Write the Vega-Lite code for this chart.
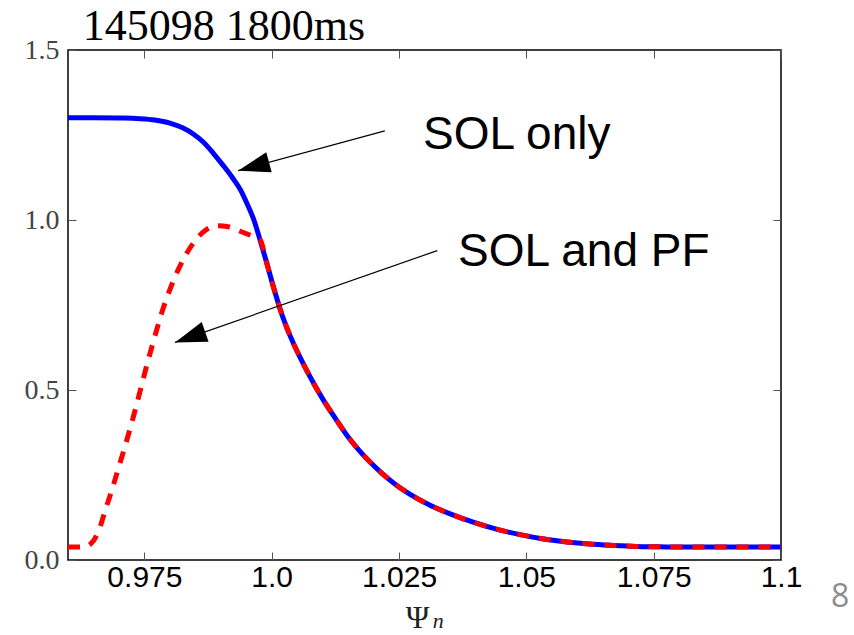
{
  "$schema": "https://vega.github.io/schema/vega-lite/v6.json",
  "autosize": {"type": "none"},
  "padding": {"left": 68, "top": 50, "right": 73, "bottom": 75},
  "width": 713,
  "height": 510,
  "background": "white",
  "config": {
    "view": {"stroke": "black", "strokeWidth": 1.5},
    "axis": {"grid": false, "domain": false}
  },
  "datasets": {
    "blue": [
      {"psi": 0.9600, "v": 1.301}, {"psi": 0.9650, "v": 1.301}, {"psi": 0.9700, "v": 1.300},
      {"psi": 0.9740, "v": 1.298}, {"psi": 0.9770, "v": 1.294}, {"psi": 0.9800, "v": 1.285},
      {"psi": 0.9825, "v": 1.271}, {"psi": 0.9846, "v": 1.253}, {"psi": 0.9865, "v": 1.230},
      {"psi": 0.9885, "v": 1.197}, {"psi": 0.9905, "v": 1.160}, {"psi": 0.9924, "v": 1.122},
      {"psi": 0.9940, "v": 1.085}, {"psi": 0.9951, "v": 1.050}, {"psi": 0.9965, "v": 1.000},
      {"psi": 0.9977, "v": 0.942}, {"psi": 0.9990, "v": 0.875}, {"psi": 1.0003, "v": 0.805},
      {"psi": 1.0020, "v": 0.722}, {"psi": 1.0036, "v": 0.660}, {"psi": 1.0055, "v": 0.598},
      {"psi": 1.0072, "v": 0.548}, {"psi": 1.0100, "v": 0.474}, {"psi": 1.0127, "v": 0.412},
      {"psi": 1.0150, "v": 0.362}, {"psi": 1.0172, "v": 0.322}, {"psi": 1.0195, "v": 0.285},
      {"psi": 1.0217, "v": 0.254}, {"psi": 1.0245, "v": 0.220}, {"psi": 1.0271, "v": 0.194},
      {"psi": 1.0310, "v": 0.162}, {"psi": 1.0353, "v": 0.134}, {"psi": 1.0400, "v": 0.109},
      {"psi": 1.0443, "v": 0.090}, {"psi": 1.0490, "v": 0.074}, {"psi": 1.0534, "v": 0.062},
      {"psi": 1.0580, "v": 0.053}, {"psi": 1.0624, "v": 0.047}, {"psi": 1.0670, "v": 0.043},
      {"psi": 1.0715, "v": 0.040}, {"psi": 1.0760, "v": 0.039}, {"psi": 1.0805, "v": 0.038},
      {"psi": 1.0900, "v": 0.038}, {"psi": 1.1000, "v": 0.038}
    ],
    "red": [
      {"psi": 0.9600, "v": 0.038}, {"psi": 0.9630, "v": 0.038}, {"psi": 0.9645, "v": 0.048},
      {"psi": 0.9660, "v": 0.085}, {"psi": 0.9674, "v": 0.150}, {"psi": 0.9688, "v": 0.215},
      {"psi": 0.9701, "v": 0.280}, {"psi": 0.9715, "v": 0.350}, {"psi": 0.9729, "v": 0.425},
      {"psi": 0.9743, "v": 0.505}, {"psi": 0.9756, "v": 0.580}, {"psi": 0.9770, "v": 0.655},
      {"psi": 0.9783, "v": 0.722}, {"psi": 0.9800, "v": 0.795}, {"psi": 0.9820, "v": 0.865},
      {"psi": 0.9846, "v": 0.932}, {"psi": 0.9870, "v": 0.970}, {"psi": 0.9893, "v": 0.983},
      {"psi": 0.9915, "v": 0.980}, {"psi": 0.9938, "v": 0.967}, {"psi": 0.9958, "v": 0.955},
      {"psi": 0.9977, "v": 0.942}, {"psi": 0.9990, "v": 0.875}, {"psi": 1.0003, "v": 0.805},
      {"psi": 1.0020, "v": 0.722}, {"psi": 1.0036, "v": 0.660}, {"psi": 1.0055, "v": 0.598},
      {"psi": 1.0072, "v": 0.548}, {"psi": 1.0100, "v": 0.474}, {"psi": 1.0127, "v": 0.412},
      {"psi": 1.0150, "v": 0.362}, {"psi": 1.0172, "v": 0.322}, {"psi": 1.0195, "v": 0.285},
      {"psi": 1.0217, "v": 0.254}, {"psi": 1.0245, "v": 0.220}, {"psi": 1.0271, "v": 0.194},
      {"psi": 1.0310, "v": 0.162}, {"psi": 1.0353, "v": 0.134}, {"psi": 1.0400, "v": 0.109},
      {"psi": 1.0443, "v": 0.090}, {"psi": 1.0490, "v": 0.074}, {"psi": 1.0534, "v": 0.062},
      {"psi": 1.0580, "v": 0.053}, {"psi": 1.0624, "v": 0.047}, {"psi": 1.0670, "v": 0.043},
      {"psi": 1.0715, "v": 0.040}, {"psi": 1.0760, "v": 0.039}, {"psi": 1.0805, "v": 0.038},
      {"psi": 1.0900, "v": 0.038}, {"psi": 1.1000, "v": 0.038}
    ],
    "arrows": [
      {"x": 1.0222, "y": 1.262, "x2": 0.9934, "y2": 1.145, "angle": 254.8},
      {"x": 1.0325, "y": 0.910, "x2": 0.9810, "y2": 0.640, "angle": 250.7}
    ],
    "labels": [
      {"x": 1.0297, "y": 1.209, "text": "SOL only"},
      {"x": 1.0366, "y": 0.866, "text": "SOL and PF"}
    ],
    "title": [{"x": 0.9629, "y": 1.529, "text": "145098 1800ms"}],
    "sub": [{"x": 1.0327, "y": -0.2, "text": "n"}],
    "page": [{"x": 1.1116, "y": -0.138, "text": "8"}]
  },
  "resolve": {"axis": {"x": "independent", "y": "independent"}},
  "layer": [
    {
      "data": {"name": "blue"},
      "mark": {"type": "point", "opacity": 0},
      "encoding": {
        "x": {"field": "psi", "type": "quantitative",
          "scale": {"domain": [0.96, 1.1], "nice": false, "zero": false},
          "axis": {"orient": "top", "values": [0.975, 1, 1.025, 1.05, 1.075, 1.1], "labels": false, "tickSize": -8, "tickColor": "#555", "title": null}},
        "y": {"field": "v", "type": "quantitative",
          "scale": {"domain": [0, 1.5], "nice": false, "zero": false},
          "axis": {"orient": "right", "values": [0, 0.5, 1, 1.5], "labels": false, "tickSize": -8, "tickColor": "#555", "title": null}}
      }
    },
    {
      "data": {"name": "blue"},
      "mark": {"type": "line", "color": "#0000ff", "strokeWidth": 5, "interpolate": "monotone"},
      "encoding": {
        "x": {"field": "psi", "type": "quantitative",
          "axis": {"orient": "bottom", "values": [0.975, 1, 1.025, 1.05, 1.075, 1.1],
            "labelExpr": "datum.value == 1 ? '1.0' : format(datum.value, '~g')",
            "labelFont": "Liberation Sans", "labelFontSize": 30, "labelColor": "black",
            "labelPadding": 10, "labelFlush": false, "labelOverlap": false,
            "tickSize": -8, "tickColor": "#555",
            "title": "Ψ", "titleFont": "Liberation Serif", "titleFontSize": 32, "titleFontWeight": "normal",
            "titleColor": "#222", "titleX": 349, "titleY": 67, "titleBaseline": "alphabetic", "titleAlign": "center"}},
        "y": {"field": "v", "type": "quantitative",
          "axis": {"orient": "left", "values": [0, 0.5, 1, 1.5], "format": ".1f",
            "labelFont": "Liberation Serif", "labelFontSize": 28, "labelColor": "#444",
            "labelPadding": 17, "tickSize": -8, "tickColor": "#555", "title": null}}
      }
    },
    {
      "data": {"name": "red"},
      "mark": {"type": "line", "color": "#ff0000", "strokeWidth": 5, "strokeDash": [12, 10], "interpolate": "monotone"},
      "encoding": {
        "x": {"field": "psi", "type": "quantitative", "axis": null},
        "y": {"field": "v", "type": "quantitative", "axis": null}
      }
    },
    {
      "data": {"name": "arrows"},
      "mark": {"type": "rule", "color": "black", "strokeWidth": 1.2},
      "encoding": {
        "x": {"field": "x", "type": "quantitative", "axis": null},
        "y": {"field": "y", "type": "quantitative", "axis": null},
        "x2": {"field": "x2"},
        "y2": {"field": "y2"}
      }
    },
    {
      "data": {"name": "arrows"},
      "mark": {"type": "point", "shape": "M0,0L-0.52,1.6L0.52,1.6Z", "filled": true, "color": "black", "opacity": 1, "size": 1600},
      "encoding": {
        "x": {"field": "x2", "type": "quantitative", "axis": null},
        "y": {"field": "y2", "type": "quantitative", "axis": null},
        "angle": {"field": "angle", "type": "quantitative", "scale": null}
      }
    },
    {
      "data": {"name": "labels"},
      "mark": {"type": "text", "font": "Liberation Sans", "fontSize": 46, "align": "left", "baseline": "alphabetic", "color": "black"},
      "encoding": {
        "x": {"field": "x", "type": "quantitative", "axis": null},
        "y": {"field": "y", "type": "quantitative", "axis": null},
        "text": {"field": "text"}
      }
    },
    {
      "data": {"name": "title"},
      "mark": {"type": "text", "font": "Liberation Serif", "fontSize": 44, "align": "left", "baseline": "alphabetic", "color": "black"},
      "encoding": {
        "x": {"field": "x", "type": "quantitative", "axis": null},
        "y": {"field": "y", "type": "quantitative", "axis": null},
        "text": {"field": "text"}
      }
    },
    {
      "data": {"name": "sub"},
      "mark": {"type": "text", "font": "Liberation Serif", "fontSize": 22, "fontStyle": "italic", "align": "center", "baseline": "alphabetic", "color": "#222"},
      "encoding": {
        "x": {"field": "x", "type": "quantitative", "axis": null},
        "y": {"field": "y", "type": "quantitative", "axis": null},
        "text": {"field": "text"}
      }
    },
    {
      "data": {"name": "page"},
      "mark": {"type": "text", "font": "Open Sans", "fontSize": 32, "align": "center", "baseline": "alphabetic", "color": "#8c8c8c"},
      "encoding": {
        "x": {"field": "x", "type": "quantitative", "axis": null},
        "y": {"field": "y", "type": "quantitative", "axis": null},
        "text": {"field": "text"}
      }
    }
  ]
}
